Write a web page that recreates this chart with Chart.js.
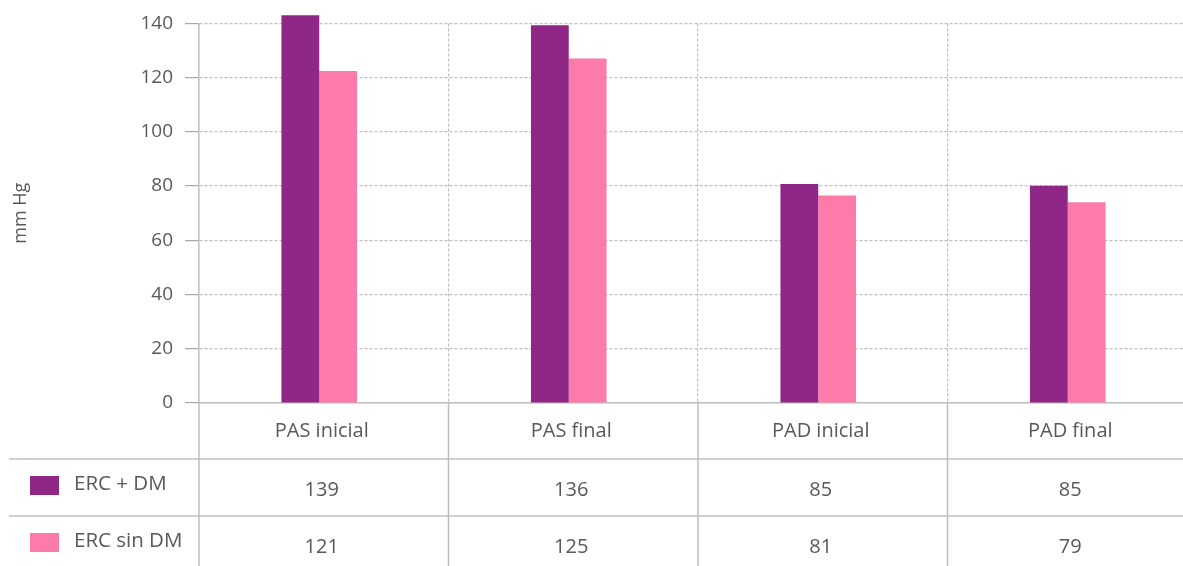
<!DOCTYPE html>
<html>
<head>
<meta charset="utf-8">
<script src="https://cdn.jsdelivr.net/npm/chart.js@4/dist/chart.umd.min.js"></script>
<style>
  html, body { margin: 0; padding: 0; background: #fff; overflow: hidden; }
  #wrap { position: relative; width: 1200px; height: 566px; }
</style>
</head>
<body>
<div id="wrap"><canvas id="c"></canvas></div>
<script>
// ---- data ----
const categories = ['PAS inicial', 'PAS final', 'PAD inicial', 'PAD final'];
const seriesNames = ['ERC + DM', 'ERC sin DM'];
// bar heights as drawn in the picture
const ercDmBars = [143, 139.3, 80.8, 80.1];
const ercSinDmBars = [122.4, 127.1, 76.5, 74.0];
// values printed in the data table
const ercDmTable = ['139', '136', '85', '85'];
const ercSinDmTable = ['121', '125', '81', '79'];
const yTicks = [0, 20, 40, 60, 80, 100, 120, 140];
const yTitle = 'mm Hg';

const colors = ['#8F2787', '#FC7BAB'];
const textColor = '#595959';
const lineColor = '#BFBFBF';
const FONT = '"Open Sans", "Liberation Sans", sans-serif';
const BAR_SHIFT = 4.5; // bars sit slightly left of the category centre in the original

const shiftPlugin = {
  id: 'barShift',
  afterLayout(chart) {
    const s = chart.scales.xb;
    s.left -= BAR_SHIFT;
    s.right -= BAR_SHIFT;
    s.configure();
  }
};

const tablePlugin = {
  id: 'dataTable',
  afterDraw(chart) {
    const ctx = chart.ctx;
    const xs = chart.scales.x;
    const area = chart.chartArea;
    const H = chart.height, W = chart.width;
    const centers = categories.map((_, i) => xs.getPixelForValue(i));
    const step = centers[1] - centers[0];
    const bounds = [area.left];
    for (let i = 0; i < centers.length; i++) bounds.push(centers[i] + step / 2);
    const row1 = area.bottom + 56;
    const row2 = area.bottom + 113;
    ctx.save();
    ctx.strokeStyle = lineColor;
    ctx.lineWidth = 1.5;
    bounds.forEach(b => {
      ctx.beginPath();
      ctx.moveTo(b, area.bottom);
      ctx.lineTo(b, H);
      ctx.stroke();
    });
    [row1, row2].forEach(y => {
      ctx.beginPath();
      ctx.moveTo(9, y);
      ctx.lineTo(W, y);
      ctx.stroke();
    });
    ctx.fillStyle = textColor;
    ctx.font = '20px ' + FONT;
    ctx.textAlign = 'center';
    ctx.textBaseline = 'middle';
    centers.forEach((c, i) => ctx.fillText(categories[i], c - 2, area.bottom + 28));
    const rows = [
      { name: seriesNames[0], vals: ercDmTable, color: colors[0], y: row1 + 29 },
      { name: seriesNames[1], vals: ercSinDmTable, color: colors[1], y: row2 + 29 }
    ];
    rows.forEach(r => {
      ctx.fillStyle = r.color;
      ctx.fillRect(30, r.y - 12, 29, 19);
      ctx.fillStyle = textColor;
      ctx.textAlign = 'left';
      ctx.font = '20.5px ' + FONT;
      ctx.fillText(r.name, 74, r.y - 4);
      ctx.textAlign = 'center';
      ctx.font = '20px ' + FONT;
      r.vals.forEach((v, i) => ctx.fillText(v, centers[i] - 2, r.y + 2));
    });
    ctx.restore();
  }
};

Chart.defaults.font.family = FONT;
Chart.defaults.color = textColor;

new Chart(document.getElementById('c'), {
  type: 'bar',
  data: {
    labels: categories,
    datasets: [
      { label: seriesNames[0], data: ercDmBars, backgroundColor: colors[0], borderWidth: 0,
        categoryPercentage: 0.303, barPercentage: 1.0, clip: false, xAxisID: 'xb' },
      { label: seriesNames[1], data: ercSinDmBars, backgroundColor: colors[1], borderWidth: 0,
        categoryPercentage: 0.303, barPercentage: 1.0, clip: false, xAxisID: 'xb' }
    ]
  },
  options: {
    responsive: true,
    maintainAspectRatio: false,
    animation: false,
    events: [],
    layout: { padding: { top: 22, left: 0, right: 3, bottom: 163 } },
    plugins: { legend: { display: false }, tooltip: { enabled: false } },
    scales: {
      x: {
        type: 'category',
        offset: true,
        ticks: { display: false },
        grid: { display: true, offset: true, drawTicks: false, color: lineColor, lineWidth: 1.2 },
        border: { display: true, color: lineColor, width: 1.5, dash: [3, 2] }
      },
      xb: {
        type: 'category',
        position: 'bottom',
        offset: true,
        display: false
      },
      y: {
        min: 0, max: 140,
        afterBuildTicks(scale) { scale.ticks = yTicks.map(v => ({ value: v })); },
        afterFit(scale) { scale.width = 199; },
        ticks: { font: { size: 19 }, color: textColor, padding: 12 },
        grid: { color: lineColor, lineWidth: 1.2, tickLength: 14, tickColor: '#A6A6A6' },
        border: { display: true, color: lineColor, width: 1.5, dash: [3, 2] },
        title: { display: true, text: yTitle, font: { size: 18 }, color: textColor, padding: { top: 10, bottom: 0 } }
      }
    }
  },
  plugins: [shiftPlugin, tablePlugin]
});
</script>
</body>
</html>
